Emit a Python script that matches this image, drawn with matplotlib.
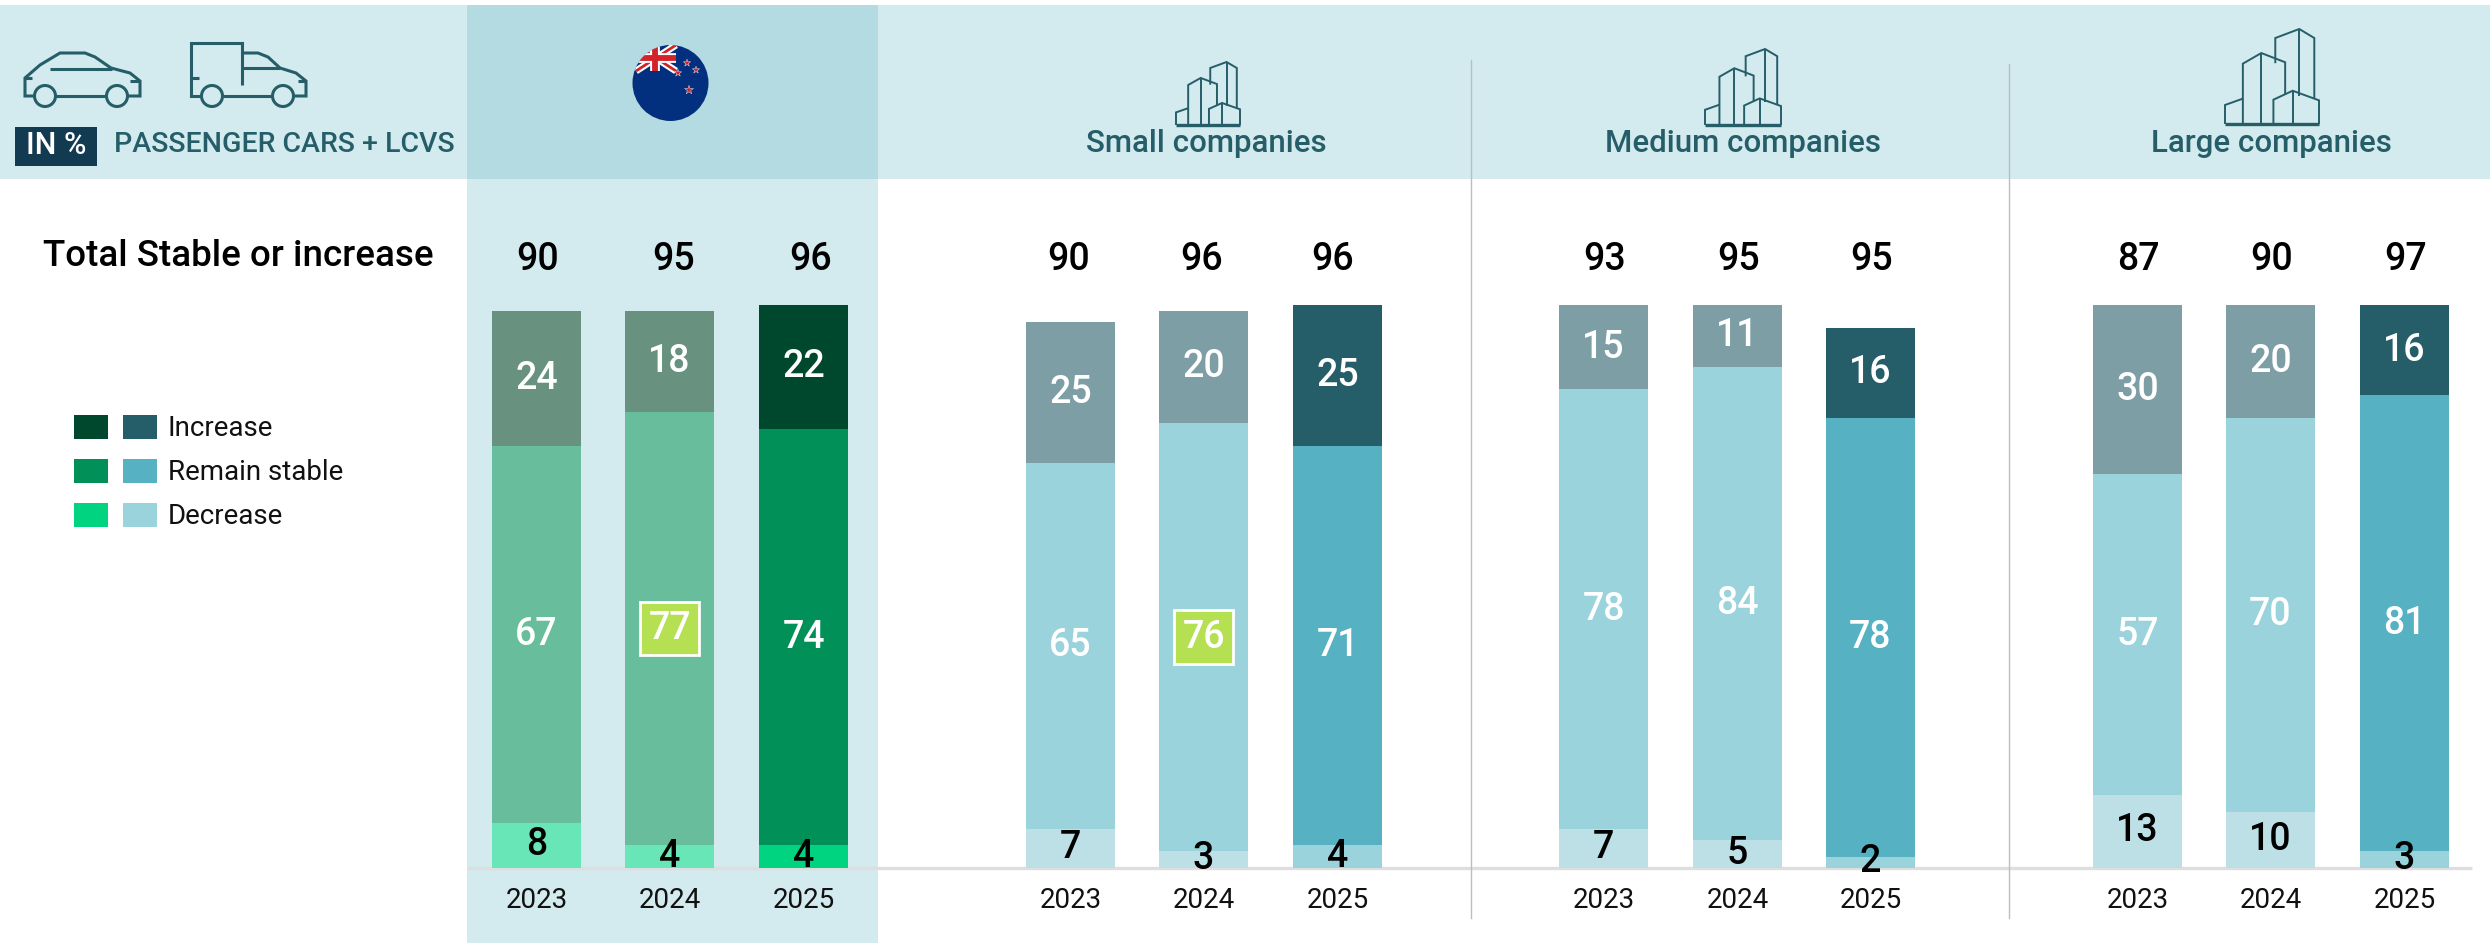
import matplotlib
matplotlib.use('Agg')
import matplotlib.pyplot as plt
from matplotlib.patches import Rectangle, Ellipse, Circle
import numpy as np

plt.rcParams['font.family'] = ['Roboto', 'DejaVu Sans']

W, H = 2490, 943

groups = ['New Zealand', 'Small companies', 'Medium companies', 'Large companies']
years = ['2023', '2024', '2025']
totals = [[90, 95, 96], [90, 96, 96], [93, 95, 95], [87, 90, 97]]
decrease = [[8, 4, 4], [7, 3, 4], [7, 5, 2], [13, 10, 3]]
stable = [[67, 77, 74], [65, 76, 71], [78, 84, 78], [57, 70, 81]]
increase = [[24, 18, 22], [25, 20, 25], [15, 11, 16], [30, 20, 16]]
legend_labels = ['Increase', 'Remain stable', 'Decrease']

bar_left = [[492, 625, 759], [1026, 1159, 1293], [1559, 1693, 1826], [2093, 2226, 2360]]
bar_w = 89
total_dx = [[1, 4, 7], [-2, -2, -5], [1, 1, 1], [1, 1, 1]]

# colours: (old years, last year)
green_old = {'inc': '#68917F', 'sta': '#67BD9C', 'dec': '#69E6B8'}
green_new = {'inc': '#00482D', 'sta': '#009058', 'dec': '#00D480'}
blue_old = {'inc': '#7E9EA5', 'sta': '#9BD3DC', 'dec': '#BCE0E6'}
blue_new = {'inc': '#255E69', 'sta': '#56B1C2', 'dec': '#9BD3DC'}

band = '#D3EAEE'
band_dark = '#B4DBE1'
teal = '#255E69'

fig = plt.figure(figsize=(W / 100, H / 100), dpi=100)

# background axes in pixel coordinates, for the header and the icons
bg = fig.add_axes([0, 0, 1, 1])
bg.set_xlim(0, W)
bg.set_ylim(H, 0)
bg.axis('off')

bg.add_patch(Rectangle((0, 5), W, 174, fc=band, ec='none'))
bg.add_patch(Rectangle((467, 179), 411, H - 179, fc=band, ec='none'))
bg.add_patch(Rectangle((467, 5), 411, 174, fc=band_dark, ec='none'))
bg.plot([467, 2472], [868, 868], color='#DEDEDE', lw=2.4, zorder=1, solid_capstyle='butt')
bg.plot([1470.5, 1470.5], [60, 918], color='#BDBDBD', lw=1, zorder=1)
bg.plot([2008.5, 2008.5], [64, 918], color='#BDBDBD', lw=1, zorder=1)


def line(pts, lw=2.2):
    pts = np.array(pts)
    bg.plot(pts[:, 0], pts[:, 1], color=teal, lw=lw, solid_joinstyle='miter', solid_capstyle='butt', zorder=3)


def wheel(x, y=96):
    bg.add_patch(Ellipse((x, y), 21, 21, fc='none', ec=teal, lw=2.2, zorder=3))


# car
line([(35, 96), (25, 96), (25, 78), (40, 65), (60, 53), (85, 53), (95, 57), (111, 68), (130, 73), (140, 81), (140, 96), (128, 96)])
line([(56, 96), (106, 96)])
line([(50, 69), (112, 69)])
line([(25, 78), (32, 78)])
line([(130, 81), (140, 81)])
wheel(45)
wheel(117)

# truck
line([(201, 96), (191, 96), (191, 43), (242, 43), (242, 85)])
line([(242, 53), (258, 53), (268, 57), (280, 68), (296, 73), (306, 81), (306, 96), (294, 96)])
line([(223, 96), (272, 96)])
line([(242, 68), (280, 68)])
line([(191, 78), (199, 78)])
line([(298, 81), (306, 81)])
wheel(212)
wheel(283)


def building(x0, x1, y0, y1):
    def P(pts):
        return [(x0 + u * (x1 - x0), y1 - v * (y1 - y0)) for u, v in pts]
    lw = 1.4
    line(P([(.535, .64), (.535, .905), (.79, 1), (.95, .905), (.95, .27)]), lw)
    line(P([(.79, 1), (.79, .3)]), lw)
    line(P([(.19, 0), (.19, .635), (.386, .747), (.64, .65), (.64, .31)]), lw)
    line(P([(.386, .747), (.386, 0)]), lw)
    line(P([(.515, 0), (.515, .256), (.72, .35), (1, .249), (1, 0)]), lw)
    line(P([(.72, .35), (.72, 0)]), lw)
    line(P([(.19, .267), (0, .2), (0, 0)]), lw)
    line(P([(0, 0), (1, 0)]), 2.4)


building(1176, 1240, 62, 125)
building(1705, 1781, 49, 125)
building(2225, 2319, 29, 124)

# flag
clip = Circle((670.5, 83), 38, transform=bg.transData)
bg.add_patch(Circle((670.5, 83), 38, fc='#02307F', ec='none', zorder=3))
flag_lines = [
    ([636, 676], [45, 71], 'white', 5),
    ([636, 676], [71, 45], 'white', 5),
    ([636, 676], [45, 71], '#D2232A', 2),
    ([636, 676], [71, 45], '#D2232A', 2),
    ([655, 655], [45, 71], 'white', 7),
    ([632, 676], [58, 58], 'white', 7),
    ([655, 655], [45, 71], '#D2232A', 4.2),
    ([632, 676], [58, 58], '#D2232A', 4.2),
]
for xs, ys, c, lw in flag_lines:
    l, = bg.plot(xs, ys, color=c, lw=lw, zorder=4, solid_capstyle='butt')
    l.set_clip_path(clip)
bg.scatter([687, 696, 678, 689], [63, 70, 73, 90], marker='*', s=[30, 30, 30, 45], color='#D2232A', edgecolor='white', linewidth=.3, zorder=5)

# header text
bg.add_patch(Rectangle((15, 127), 82, 39, fc='#123A50', ec='none'))
bg.text(56, 146, 'IN %', color='white', fontsize=22, fontweight='medium', ha='center', va='center')
bg.text(114, 145, 'PASSENGER CARS + LCVS', color=teal, fontsize=20.5, fontweight='medium', ha='left', va='center')
bg.text(43, 257, 'Total Stable or increase', color='black', fontsize=26.5, fontweight='medium', ha='left', va='center')

for name, cx in zip(groups[1:], [1206, 1743, 2271]):
    bg.text(cx, 144, name, color=teal, fontsize=22.5, fontweight='medium', ha='center', va='center')

# legend
legend_y = [415, 459, 503]
for lab, y, k in zip(legend_labels, legend_y, ['inc', 'sta', 'dec']):
    bg.add_patch(Rectangle((74, y), 34, 24, fc=green_new[k], ec='none'))
    bg.add_patch(Rectangle((123, y), 34, 24, fc=blue_new[k], ec='none'))
    bg.text(168, y + 13.5, lab, color='#111111', fontsize=20, ha='left', va='center')

# bars: y axis runs 0-100 from the baseline at 868 up to 305
ax = fig.add_axes([0, (H - 868) / H, 1, (868 - 305) / H])
ax.set_xlim(0, W)
ax.set_ylim(0, 100)
ax.axis('off')
ax.patch.set_alpha(0)

for g in range(4):
    pal_old = green_old if g == 0 else blue_old
    pal_new = green_new if g == 0 else blue_new
    for i in range(3):
        pal = pal_new if i == 2 else pal_old
        x = bar_left[g][i] + bar_w / 2
        d, s, n = decrease[g][i], stable[g][i], increase[g][i]
        ax.bar(x, d, bar_w, color=pal['dec'])
        ax.bar(x, s, bar_w, bottom=d, color=pal['sta'])
        ax.bar(x, n, bar_w, bottom=d + s, color=pal['inc'])

        ax.text(x, d / 2 + .1, str(d), color='black', fontsize=27, fontweight='medium', ha='center', va='center', clip_on=False, zorder=6)
        sty = dict(color='white', fontsize=27, fontweight='medium', ha='center', va='center', zorder=6)
        if (g, i) in [(0, 1), (1, 1)]:
            sty['bbox'] = dict(boxstyle='square,pad=0.22', fc='#B5E051', ec='white', lw=2)
        ax.text(x, d + s / 2, str(s), **sty)
        ax.text(x, d + s + n / 2, str(n), color='white', fontsize=27, fontweight='medium', ha='center', va='center', zorder=6)

        bg.text(x + total_dx[g][i], 259, str(totals[g][i]), color='black', fontsize=27, fontweight='medium', ha='center', va='center')
        bg.text(x, 901, years[i], color='#111111', fontsize=20, ha='center', va='center')

fig.savefig('out.png', dpi=100)
